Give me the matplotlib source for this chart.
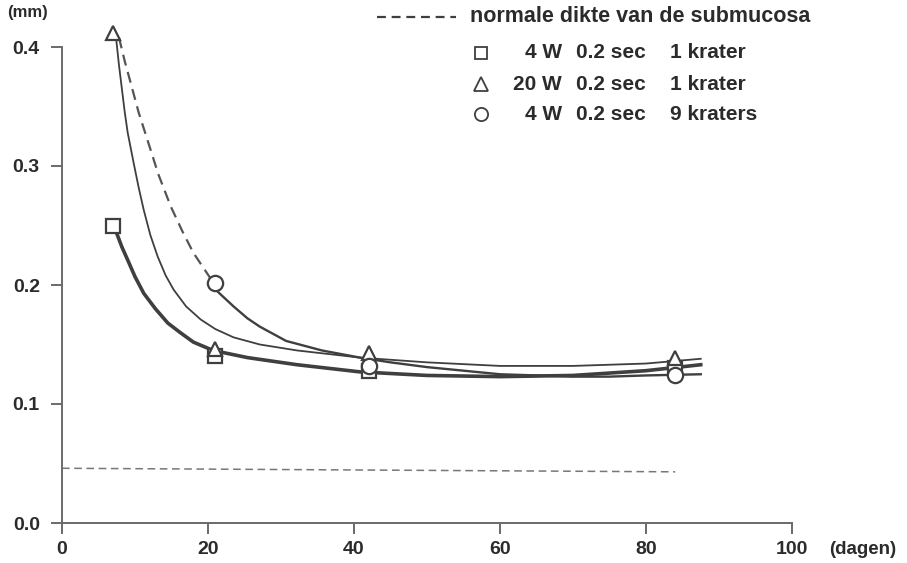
import matplotlib
matplotlib.use("Agg")
import numpy as np
import matplotlib.pyplot as plt
from matplotlib.lines import Line2D

# measured points (days, mm)
days_square = [7, 21, 42, 84]
mm_square = [0.250, 0.140, 0.128, 0.130]
days_triangle = [7, 21, 42, 84]
mm_triangle = [0.412, 0.146, 0.143, 0.139]
days_circle = [21, 42, 84]
mm_circle = [0.202, 0.132, 0.124]

# fitted curves
curve_sq_x = [7.4, 8.2, 9.0, 10.0, 11.2, 12.8, 14.5, 16.2, 18.0, 20.7, 25.4, 32.2, 40.8, 50, 60, 70, 80, 87.5]
curve_sq_y = [0.245, 0.232, 0.221, 0.207, 0.193, 0.180, 0.168, 0.160, 0.152, 0.145, 0.139, 0.133, 0.127,
              0.124, 0.123, 0.124, 0.128, 0.133]
curve_tr_x = [7.4, 7.8, 8.2, 8.6, 9.0, 9.8, 10.5, 11.2, 12.1, 13.1, 14.2, 15.3, 17.0, 19.0, 21.0, 23.5, 27.1,
              32.2, 40.8, 50, 60, 70, 80, 87.5]
curve_tr_y = [0.408, 0.385, 0.365, 0.345, 0.328, 0.303, 0.282, 0.263, 0.242, 0.224, 0.208, 0.196, 0.182,
              0.171, 0.163, 0.156, 0.150, 0.145, 0.139, 0.135, 0.132, 0.132, 0.134, 0.138]
curve_ci_x = [21.4, 23.5, 25.4, 27.1, 30.7, 35.6, 40.8, 45, 50, 55, 60, 65, 70, 75, 80, 87.5]
curve_ci_y = [0.194, 0.182, 0.172, 0.165, 0.153, 0.145, 0.139, 0.135, 0.131, 0.128, 0.125, 0.124, 0.123,
              0.123, 0.124, 0.125]
curve_dash_x = [7.8, 8.6, 9.4, 10.5, 11.7, 13.2, 14.9, 16.5, 18.0, 19.2, 20.4]
curve_dash_y = [0.408, 0.388, 0.370, 0.345, 0.322, 0.293, 0.266, 0.245, 0.227, 0.216, 0.205]

# normal submucosa thickness
normal_x = [0, 84]
normal_y = [0.046, 0.043]

legend_title = "normale dikte van de submucosa"
legend_power = ["4 W", "20 W", "4 W"]
legend_time = ["0.2 sec", "0.2 sec", "0.2 sec"]
legend_count = ["1 krater", "1 krater", "9 kraters"]
legend_markers = ["s", "^", "o"]

ink = "#3f3f3f"
txt = "#2b2b2b"
axis_col = "#6a6a6a"
plt.rcParams['font.family'] = ['Liberation Sans', 'DejaVu Sans']

W, H = 907, 563
fig = plt.figure(figsize=(W / 100, H / 100), dpi=100)
ax = fig.add_axes([62 / W, (H - 523) / H, (792 - 62) / W, (523 - 47) / H])

ax.plot(normal_x, normal_y, ls=(0, (5, 3)), color="#777777", lw=1.1)
ax.plot(curve_dash_x, curve_dash_y, ls=(0, (5, 3)), color="#555555", lw=1.6, clip_on=False)
ax.plot(curve_tr_x, curve_tr_y, color=ink, lw=1.3, clip_on=False)
ax.plot(curve_ci_x, curve_ci_y, color=ink, lw=1.7, clip_on=False)
ax.plot(curve_sq_x, curve_sq_y, color=ink, lw=2.6, clip_on=False)

mk = dict(ls="none", mfc="white", mec=ink, mew=1.6, clip_on=False, zorder=5)
ax.plot(days_square, mm_square, marker="s", ms=9.5, **mk)
ax.plot(days_triangle, mm_triangle, marker="^", ms=10.5, **mk)
ax.plot(days_circle, mm_circle, marker="o", ms=11, **mk)

ax.set_xlim(0, 100)
ax.set_ylim(0, 0.4)
ax.set_xticks([0, 20, 40, 60, 80, 100])
ax.set_yticks([0.0, 0.1, 0.2, 0.3, 0.4])
ax.set_yticklabels(["0.0", "0.1", "0.2", "0.3", "0.4"])
for s in ["top", "right"]:
    ax.spines[s].set_visible(False)
for s in ["left", "bottom"]:
    ax.spines[s].set_color(axis_col)
    ax.spines[s].set_linewidth(1.4)
ax.tick_params(direction="out", length=8, width=1.4, color=axis_col, labelcolor=txt, labelsize=14)
ax.tick_params(axis="y", pad=8)
ax.tick_params(axis="x", pad=5)
for lab in ax.get_xticklabels() + ax.get_yticklabels():
    lab.set_fontweight("bold")

fig.text(7 / W, 1 - 13 / H, "(mm)", fontsize=12, fontweight="bold", color=txt, va="center")
fig.text(829 / W, 1 - 549 / H, "(dagen)", fontsize=13.5, fontweight="bold", color=txt, va="center")

# hand-made legend
def fx(px):
    return px / W

def fy(py):
    return 1 - py / H

fig.add_artist(Line2D([fx(377), fx(456)], [fy(17), fy(17)], ls=(0, (4, 2.6)), color=ink, lw=1.6))
fig.text(fx(470), fy(17), legend_title, fontsize=15.5, fontweight="bold", color=txt, va="center")
row_y = [53, 84, 114]
for m, p, t, c, ry in zip(legend_markers, legend_power, legend_time, legend_count, row_y):
    fig.add_artist(Line2D([fx(481)], [fy(ry)], marker=m, ms=8.5 if m == "s" else 9.5, mfc="white",
                          mec=ink, mew=1.3, ls="none"))
    fig.text(fx(562), fy(ry), p, fontsize=15, fontweight="bold", color=txt, va="center", ha="right")
    fig.text(fx(576), fy(ry), t, fontsize=15, fontweight="bold", color=txt, va="center")
    fig.text(fx(670), fy(ry), c, fontsize=15, fontweight="bold", color=txt, va="center")

fig.savefig("out.png", dpi=100)
